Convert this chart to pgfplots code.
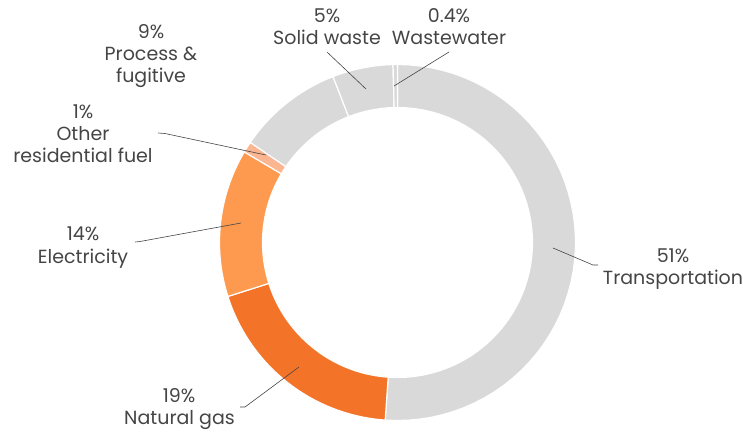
\documentclass[border=0pt]{standalone}
\usepackage{pgfplots}
\pgfplotsset{compat=1.18}
\usepackage{fontspec}
\setmainfont{Poppins}
\definecolor{sgray}{HTML}{D9D9D9}
\definecolor{sgas}{HTML}{F37428}
\definecolor{selec}{HTML}{FD9A4F}
\definecolor{sother}{HTML}{FBB590}
\definecolor{txt}{HTML}{454545}
% ring segment: start (percent), value (percent), colour
\newcommand{\slice}[3]{%
  \addplot[fill=#3, draw=white, line width=1.2pt, samples at={0,...,101}, variable=\t]
  ({397.5 + ifthenelse(\t<50.5,178,135)*sin(3.6*ifthenelse(\t<50.5,#1+#2*\t/50,#1+#2-#2*(\t-51)/50))},
   {242.5 - ifthenelse(\t<50.5,178,135)*cos(3.6*ifthenelse(\t<50.5,#1+#2*\t/50,#1+#2-#2*(\t-51)/50))}) -- cycle;}
\begin{document}
\begin{tikzpicture}
\begin{axis}[x=1pt, y=1pt, xmin=0, xmax=743, ymin=0, ymax=432, y dir=reverse,
  hide axis, clip=false, scale only axis]
% Transportation 51.1, Natural gas 19.0, Electricity 13.4, Other residential fuel 1.0,
% Process & fugitive 9.6, Solid waste 5.5, Wastewater 0.4
\slice{0}{51.1}{sgray}
\slice{51.1}{19.0}{sgas}
\slice{70.1}{13.4}{selec}
\slice{83.5}{1.0}{sother}
\slice{84.5}{9.6}{sgray}
\slice{94.1}{5.5}{sgray}
\slice{99.6}{0.4}{sgray}
\begin{scope}[every node/.style={font=\fontsize{19}{22}\selectfont, text=txt, inner sep=0pt, anchor=base}]
\node at (axis cs:327,22.7) {5\%};
\node at (axis cs:327,44) {Solid waste};
\node at (axis cs:449,22.7) {0.4\%};
\node at (axis cs:449,44) {Wastewater};
\node at (axis cs:151,38.5) {9\%};
\node at (axis cs:151,60) {Process \&};
\node at (axis cs:151,82) {fugitive};
\node at (axis cs:83,118.5) {1\%};
\node at (axis cs:83,140.5) {Other};
\node at (axis cs:83,162.5) {residential fuel};
\node at (axis cs:83,240) {14\%};
\node at (axis cs:83,263) {Electricity};
\node at (axis cs:673,262.7) {51\%};
\node at (axis cs:673,284.5) {Transportation};
\node at (axis cs:179,402.7) {19\%};
\node[anchor=base east] at (axis cs:235,424) {Natural gas};
\end{scope}
\begin{scope}[draw=txt, line width=0.6pt]
\draw (axis cs:327,52) -- (axis cs:366,89);
\draw (axis cs:449,52) -- (axis cs:394,86);
\draw (axis cs:158,133) -- (axis cs:165,133.5) -- (axis cs:266,155);
\draw (axis cs:135,242) -- (axis cs:140,241.5) -- (axis cs:241,223);
\draw (axis cs:553,248) -- (axis cs:593,265) -- (axis cs:598,265);
\draw (axis cs:240,407) -- (axis cs:245,407) -- (axis cs:299,367);
\end{scope}
\end{axis}
\pgfresetboundingbox
\path (0,0) rectangle (743pt,432pt);
\end{tikzpicture}
\end{document}
